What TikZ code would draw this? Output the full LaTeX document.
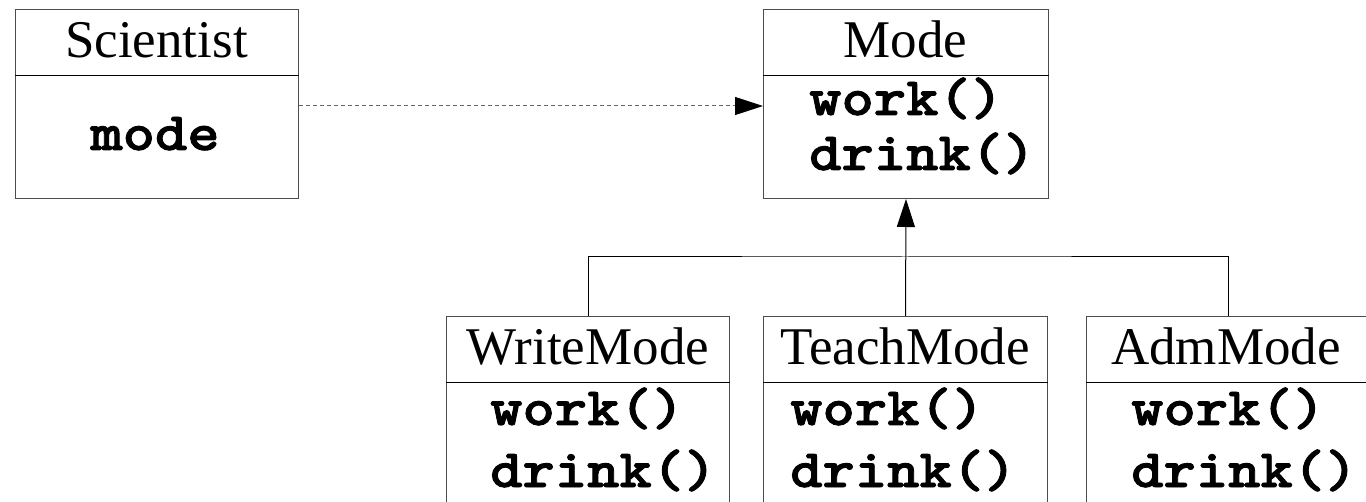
\documentclass[tikz,border=0pt]{standalone}
\usepackage{fontspec}
\setmainfont{Liberation Serif}
\newfontfamily\codefont{lmmonolt10-bold.otf}[FakeBold=1.6,FakeStretch=1.14]
\usetikzlibrary{arrows.meta}
\newcommand{\codetxt}[1]{{\codefont #1}}
\begin{document}
\begin{tikzpicture}[x=1pt,y=-1pt,
  boxpart/.style={draw=black!70,line width=1pt,rectangle,inner sep=0pt,minimum width=283pt,anchor=north west},
  headpart/.style={boxpart,minimum height=66pt},
  bodypart/.style={boxpart,minimum height=123pt},
  divline/.style={draw=black,line width=1pt},
  title/.style={font=\fontsize{53}{60}\selectfont,anchor=base,inner sep=0pt},
  code/.style={font=\fontsize{54}{60}\selectfont,anchor=base west,inner sep=0pt},
  conn/.style={draw=black,line width=1pt},
  dep/.style={draw=black!60,line width=1pt,dash pattern=on 4pt off 3pt},
  tip/.style={-{Triangle[length=28pt,width=18pt,color=black]}}
]
\useasboundingbox (0,0) rectangle (1366,502);
\clip (0,0) rectangle (1366,502);
\fill[white] (0,0) rectangle (1366,502);

% Scientist
\node[bodypart] (sci-b) at (15,75) {};
\node[headpart] (sci-h) at (15,9) {};
\draw[divline] (sci-h.south west) -- (sci-h.south east);
\node[title] (sci-t) at (156.5,58) {Scientist};
\node[code,anchor=base] (sci-m) at (155,150) {\codetxt{mode}};

% Mode
\node[bodypart,minimum width=285pt] (mode-b) at (763,75) {};
\node[headpart,minimum width=285pt] (mode-h) at (763,9) {};
\draw[divline] (mode-h.south west) -- (mode-h.south east);
\node[title] (mode-t) at (905.5,58) {Mode};
\node[code] (mode-w) at (809,115) {\codetxt{work()}};
\node[code] (mode-d) at (809,170) {\codetxt{drink()}};

% WriteMode
\node[bodypart] (write-b) at (446,382) {};
\node[headpart] (write-h) at (446,316) {};
\draw[divline] (write-h.south west) -- (write-h.south east);
\node[title] (write-t) at (588,365) {WriteMode};
\node[code] (write-w) at (490,425) {\codetxt{work()}};
\node[code] (write-d) at (490,487) {\codetxt{drink()}};

% TeachMode
\node[bodypart,minimum width=284pt] (teach-b) at (763,382) {};
\node[headpart,minimum width=284pt] (teach-h) at (763,316) {};
\draw[divline] (teach-h.south west) -- (teach-h.south east);
\node[title] (teach-t) at (905,365) {TeachMode};
\node[code] (teach-w) at (790,425) {\codetxt{work()}};
\node[code] (teach-d) at (790,487) {\codetxt{drink()}};

% AdmMode
\node[bodypart] (adm-b) at (1086,382) {};
\node[headpart] (adm-h) at (1086,316) {};
\draw[divline] (adm-h.south west) -- (adm-h.south east);
\node[title] (adm-t) at (1226,365) {AdmMode};
\node[code] (adm-w) at (1131,425) {\codetxt{work()}};
\node[code] (adm-d) at (1131,487) {\codetxt{drink()}};

% connectors
\coordinate (bar) at (905,257);
\draw[dep,tip] ([yshift=31pt]sci-b.east) -- ([yshift=31pt]mode-b.west);
\draw[conn] (write-h.north) |- (bar) -| (adm-h.north);
\draw[conn,tip] (teach-h.north) -- (mode-b.south);
\end{tikzpicture}
\end{document}
